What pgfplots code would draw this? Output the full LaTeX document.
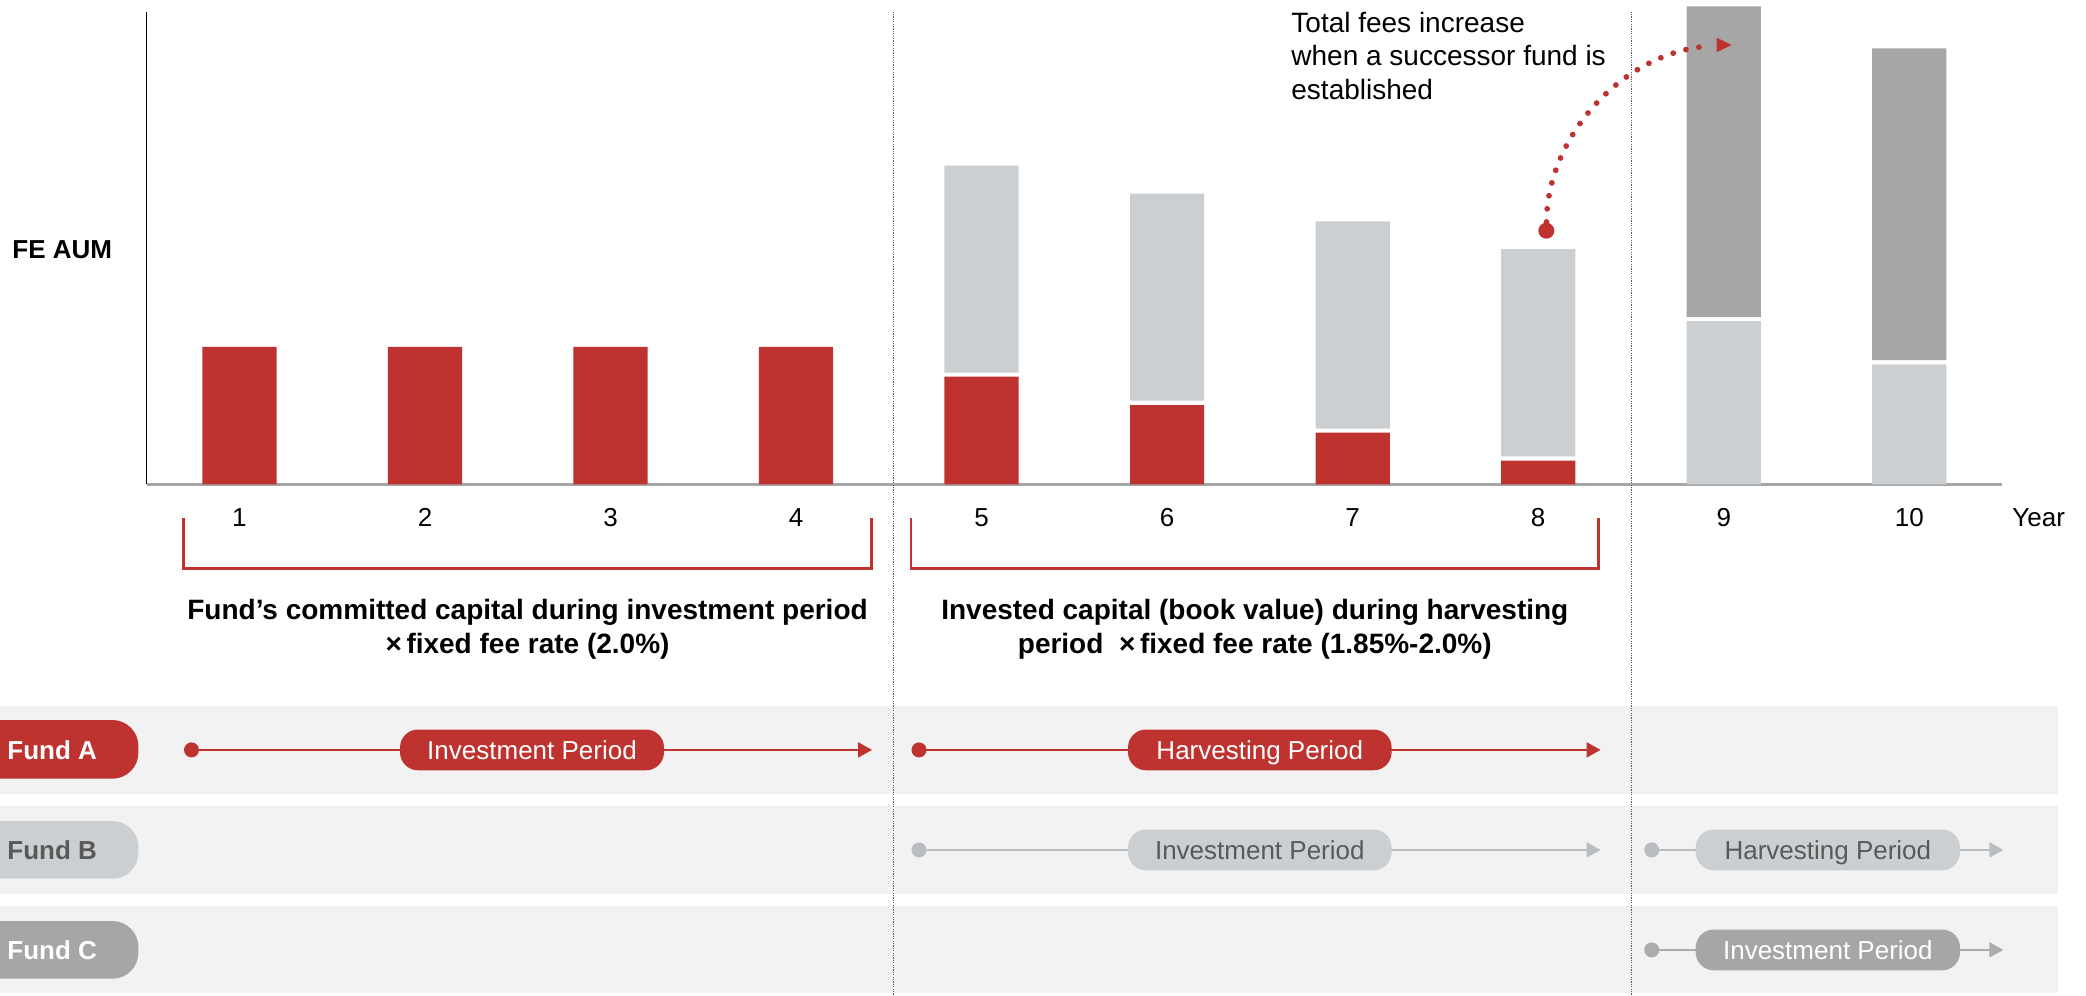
\documentclass[border=0pt]{standalone}
\usepackage{fontspec}
\setmainfont{Liberation Sans}
\usepackage{pgfplots}
\pgfplotsset{compat=1.18}
\usepackage{pgfplotstable}
\usetikzlibrary{arrows.meta}

\definecolor{cred}{RGB}{190,51,48}
\definecolor{clight}{RGB}{204,207,210}
\definecolor{cdark}{RGB}{166,166,166}
\definecolor{cband}{RGB}{242,242,242}
\definecolor{cbline}{RGB}{185,189,193}
\definecolor{ccline}{RGB}{172,172,172}
\definecolor{ctext}{RGB}{89,89,89}
\definecolor{caxis}{RGB}{166,166,166}
\definecolor{cdot}{RGB}{90,90,90}

\pgfplotstableread{
x A gA B gB C
1 137.5 0 0 0 0
2 137.5 0 0 0 0
3 137.5 0 0 0 0
4 137.5 0 0 0 0
5 107.6 4 207 0 0
6 79.3 4.3 207 0 0
7 51.6 4 207.4 0 0
8 23.6 4.4 207.3 0 0
9 0 0 163.3 4 310.7
10 0 0 120 4.3 311.7
}\fedata

\newcommand{\seg}[9]{%
  \draw[#6, line width=1.3pt] (#2,#1) -- (#3-12,#1);
  \fill[#6] (#2,#1) circle[radius=3.75pt];
  \fill[#6] (#3,#1) -- (#3-14,#1-7.8) -- (#3-14,#1+7.8) -- cycle;
  \fill[#7, rounded corners=9pt] (#4,#1-20.4) rectangle (#5,#1+20.4);
  \node[anchor=base, text=#8, font=\fontsize{13}{15.6}\selectfont, inner sep=0pt] at ({(#4+#5)/2},#1+9.3) {#9};
}

\begin{document}
\begin{tikzpicture}
\useasboundingbox (0,0) rectangle (1043pt,-497.5pt);
\begin{axis}[
  at={(73.35pt,-242.15pt)}, anchor=south west,
  scale only axis, width=927.65pt, height=236.3pt,
  xmin=0.5, xmax=10.5, ymin=0, ymax=472.6,
  clip=false,
  ybar stacked, bar width=0.4,
  axis x line=bottom, axis y line=left,
  x axis line style={-, draw=caxis, line width=1.2pt},
  y axis line style={-, draw=black, line width=0.6pt},
  xtick={1,2,3,4,5,6,7,8,9,10},
  xticklabels={1,2,3,4,5,6,7,8,9,10},
  ytick=\empty,
  major tick length=0pt,
  xticklabel style={anchor=base, yshift=-20.85pt, inner sep=0pt, font=\fontsize{13}{15.6}\selectfont},
]
\addplot[fill=cred, draw=none] table[x=x,y=A]{\fedata};
\addplot[fill=none, draw=none] table[x=x,y=gA]{\fedata};
\addplot[fill=clight, draw=none] table[x=x,y=B]{\fedata};
\addplot[fill=none, draw=none] table[x=x,y=gB]{\fedata};
\addplot[fill=cdark, draw=none] table[x=x,y=C]{\fedata};
\end{axis}

\begin{scope}[x=0.5pt,y=-0.5pt]
  % bands
  \fill[cband] (0,706) rectangle (2057.5,793.7);
  \fill[cband] (0,806) rectangle (2057.5,893.7);
  \fill[cband] (0,906) rectangle (2057.5,993.3);
  % dotted separators
  \draw[cdot, line width=0.6pt, dash pattern=on 0.6pt off 0.6pt] (893.5,11.7) -- (893.5,995);
  \draw[cdot, line width=0.6pt, dash pattern=on 0.6pt off 0.6pt] (1631.6,11.7) -- (1631.6,995);

  % labels
  \node[anchor=base west, inner sep=0pt, font=\bfseries\fontsize{13}{15.6}\selectfont] at (12,258) {FE AUM};
  \node[anchor=base west, inner sep=0pt, font=\fontsize{13}{15.6}\selectfont] at (2012,526) {Year};

  \node[anchor=base west, inner sep=0pt, font=\fontsize{14}{16.8}\selectfont] at (1291,32.5) {Total fees increase};
  \node[anchor=base west, inner sep=0pt, font=\fontsize{14}{16.8}\selectfont] at (1291,66) {when a successor fund is};
  \node[anchor=base west, inner sep=0pt, font=\fontsize{14}{16.8}\selectfont] at (1291,99) {established};

  % red arrow
  \draw[cred, line width=2.9pt, line cap=round, dash pattern=on 0pt off 6.6pt] (1546.5,222) .. controls (1547,135) and (1625,50) .. (1712,46);
  \fill[cred] (1546.3,230.7) circle[radius=4pt];
  \fill[cred] (1731.7,45) -- (1716.7,37.8) -- (1716.7,52.2) -- cycle;

  % brackets
  \draw[cred, line width=1.2pt] (183.5,518) -- (183.5,568.5) -- (871.4,568.5) -- (871.4,518);
  \draw[cred, line width=1.2pt] (911.2,518) -- (911.2,568.5) -- (1598.5,568.5) -- (1598.5,518);

  \node[anchor=base, inner sep=0pt, font=\bfseries\fontsize{14}{16.8}\selectfont] at (527.5,619) {Fund’s committed capital during investment period};
  \node[anchor=base, inner sep=0pt, font=\bfseries\fontsize{14}{16.8}\selectfont] at (527.5,653) {×\,fixed fee rate (2.0\%)};
  \node[anchor=base, inner sep=0pt, font=\bfseries\fontsize{14}{16.8}\selectfont] at (1254.8,619) {Invested capital (book value) during harvesting};
  \node[anchor=base, inner sep=0pt, font=\bfseries\fontsize{14}{16.8}\selectfont] at (1254.8,653) {period\ \ ×\,fixed fee rate (1.85\%-2.0\%)};

  % fund pills
  \fill[cred, rounded corners=13pt] (-60,720) rectangle (138.4,778.7);
  \node[anchor=base west, inner sep=0pt, text=white, font=\bfseries\fontsize{13}{15.6}\selectfont] at (7,759) {Fund A};
  \fill[clight, rounded corners=13pt] (-60,821) rectangle (138.4,878.7);
  \node[anchor=base west, inner sep=0pt, text=ctext, font=\bfseries\fontsize{13}{15.6}\selectfont] at (7,859.2) {Fund B};
  \fill[cdark, rounded corners=13pt] (-60,921) rectangle (138.4,978.7);
  \node[anchor=base west, inner sep=0pt, text=white, font=\bfseries\fontsize{13}{15.6}\selectfont] at (7,959.2) {Fund C};

  % timelines
  \seg{749.9}{191.5}{872}{400}{664}{cred}{cred}{white}{Investment Period}
  \seg{749.9}{919}{1600.5}{1128}{1391.6}{cred}{cred}{white}{Harvesting Period}
  \seg{849.9}{919}{1600.5}{1128}{1391.6}{cbline}{clight}{ctext}{Investment Period}
  \seg{849.9}{1651.7}{2003.3}{1695.7}{1960}{cbline}{clight}{ctext}{Harvesting Period}
  \seg{949.9}{1651.7}{2003.3}{1695.7}{1960}{ccline}{cdark}{white}{Investment Period}
\end{scope}
\end{tikzpicture}
\end{document}
